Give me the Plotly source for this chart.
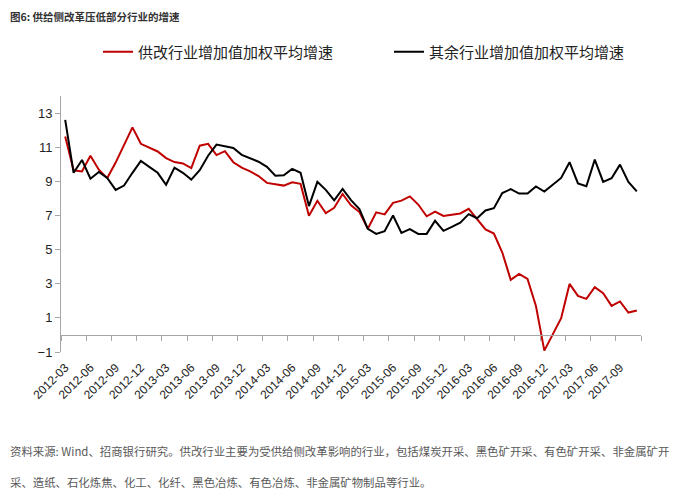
import plotly.graph_objects as go

# monthly categories 2012-03 .. 2017-11
months = []
for y in range(2012, 2018):
    for m in range(1, 13):
        if (y == 2012 and m < 3) or (y == 2017 and m > 11):
            continue
        months.append(f"{y}-{m:02d}")

reform = [11.63, 9.65, 9.58, 10.5, 9.68, 9.19, 10.1, 11.12, 12.16, 11.2,
          10.99, 10.75, 10.36, 10.13, 10.05, 9.78, 11.09, 11.2, 10.54, 10.77,
          10.12, 9.8, 9.58, 9.31, 8.91, 8.82, 8.75, 8.94, 8.85, 6.98,
          7.86, 7.14, 7.45, 8.26, 7.6, 7.2, 6.22, 7.18, 7.06, 7.74,
          7.87, 8.12, 7.64, 6.95, 7.22, 6.97, 7.03, 7.12, 7.39, 6.8,
          6.18, 5.94, 4.83, 3.23, 3.58, 3.28, 1.7, -0.92, 0.05, 0.98,
          2.99, 2.29, 2.11, 2.8, 2.44, 1.7, 1.96, 1.31, 1.43]

others = [12.6, 9.5, 10.25, 9.15, 9.55, 9.2, 8.5, 8.75, 9.5, 10.2,
          9.85, 9.5, 8.8, 9.8, 9.5, 9.1, 9.65, 10.5, 11.15, 11.05,
          10.95, 10.55, 10.35, 10.15, 9.85, 9.33, 9.35, 9.73, 9.5, 7.55,
          8.97, 8.5, 7.88, 8.55, 7.9, 7.38, 6.22, 5.92, 6.08, 7.0,
          5.98, 6.2, 5.92, 5.92, 6.69, 6.1, 6.33, 6.58, 7.08, 6.84,
          7.29, 7.43, 8.31, 8.54, 8.28, 8.28, 8.7, 8.4, 8.8, 9.2,
          10.12, 8.88, 8.71, 10.27, 8.97, 9.18, 9.98, 8.97, 8.41]

names = ["供改行业增加值加权平均增速", "其余行业增加值加权平均增速"]
colors = ["#C00000", "#000000"]
y_range = [-1, 14]
y_ticks = [-1, 1, 3, 5, 7, 9, 11, 13]

FONT = "Arial, Liberation Sans, Noto Sans CJK SC"
CJK = "Noto Sans CJK SC"

W, H = 673, 497
L, R, T, B = 61, 32, 96, 145
PW, PH = W - L - R, H - T - B

fig = go.Figure()
for vals, name, col in zip([reform, others], names, colors):
    fig.add_trace(go.Scatter(x=months, y=vals, mode="lines", name=name,
                             line=dict(color=col, width=2)))

zero_pos = (0 - y_range[0]) / (y_range[1] - y_range[0])

fig.update_layout(
    width=W, height=H,
    margin=dict(l=L, r=R, t=T, b=B),
    plot_bgcolor="white", paper_bgcolor="white",
    font=dict(family=FONT, color="#222222"),
    legend=dict(orientation="h", xref="container", x=98 / W, xanchor="left",
                yref="container", y=1 - 52 / H, yanchor="middle",
                font=dict(size=15, color="#222222", family=CJK),
                entrywidth=246, entrywidthmode="pixels",
                bgcolor="rgba(0,0,0,0)"),
    showlegend=True,
    xaxis=dict(type="category", categoryorder="array", categoryarray=months,
               range=[-0.5, len(months) - 0.5],
               anchor="free", position=zero_pos,
               showline=True, linecolor="#A6A6A6", linewidth=1,
               ticks="outside", ticklen=5, tickcolor="#A6A6A6",
               tickson="boundaries",
               tickmode="linear", tick0=0, dtick=3,
               tickangle=-45, ticklabelstandoff=20,
               tickfont=dict(size=12, color="#222222"),
               showgrid=False, zeroline=False),
    yaxis=dict(range=y_range, tickvals=y_ticks,
               showline=True, linecolor="#A6A6A6", linewidth=1,
               ticks="outside", ticklen=5, tickcolor="#A6A6A6",
               tickfont=dict(size=13, color="#222222"),
               showgrid=False, zeroline=False),
)

# title
fig.add_annotation(text="<b>图6: 供给侧改革压低部分行业的增速</b>",
                   xref="paper", yref="paper",
                   x=(8 - L) / PW, y=(H - B - 16) / PH,
                   xanchor="left", yanchor="middle", showarrow=False,
                   font=dict(size=10.5, color="#333333", family=CJK))

notes = ["资料来源: Wind、招商银行研究。供改行业主要为受供给侧改革影响的行业，包括煤炭开采、黑色矿开采、有色矿开采、非金属矿开",
         "采、造纸、石化炼焦、化工、化纤、黑色冶炼、有色冶炼、非金属矿物制品等行业。"]
for txt, ypx in zip(notes, [451, 482]):
    fig.add_annotation(text=txt, xref="paper", yref="paper",
                       x=(8 - L) / PW, y=(H - B - ypx) / PH,
                       xanchor="left", yanchor="middle", showarrow=False,
                       font=dict(size=11.4, color="#595959", family=CJK))

fig.write_html("out.html",
               config={"displayModeBar": False},
               post_script="document.body.style.margin='0';document.body.style.overflow='hidden';")
